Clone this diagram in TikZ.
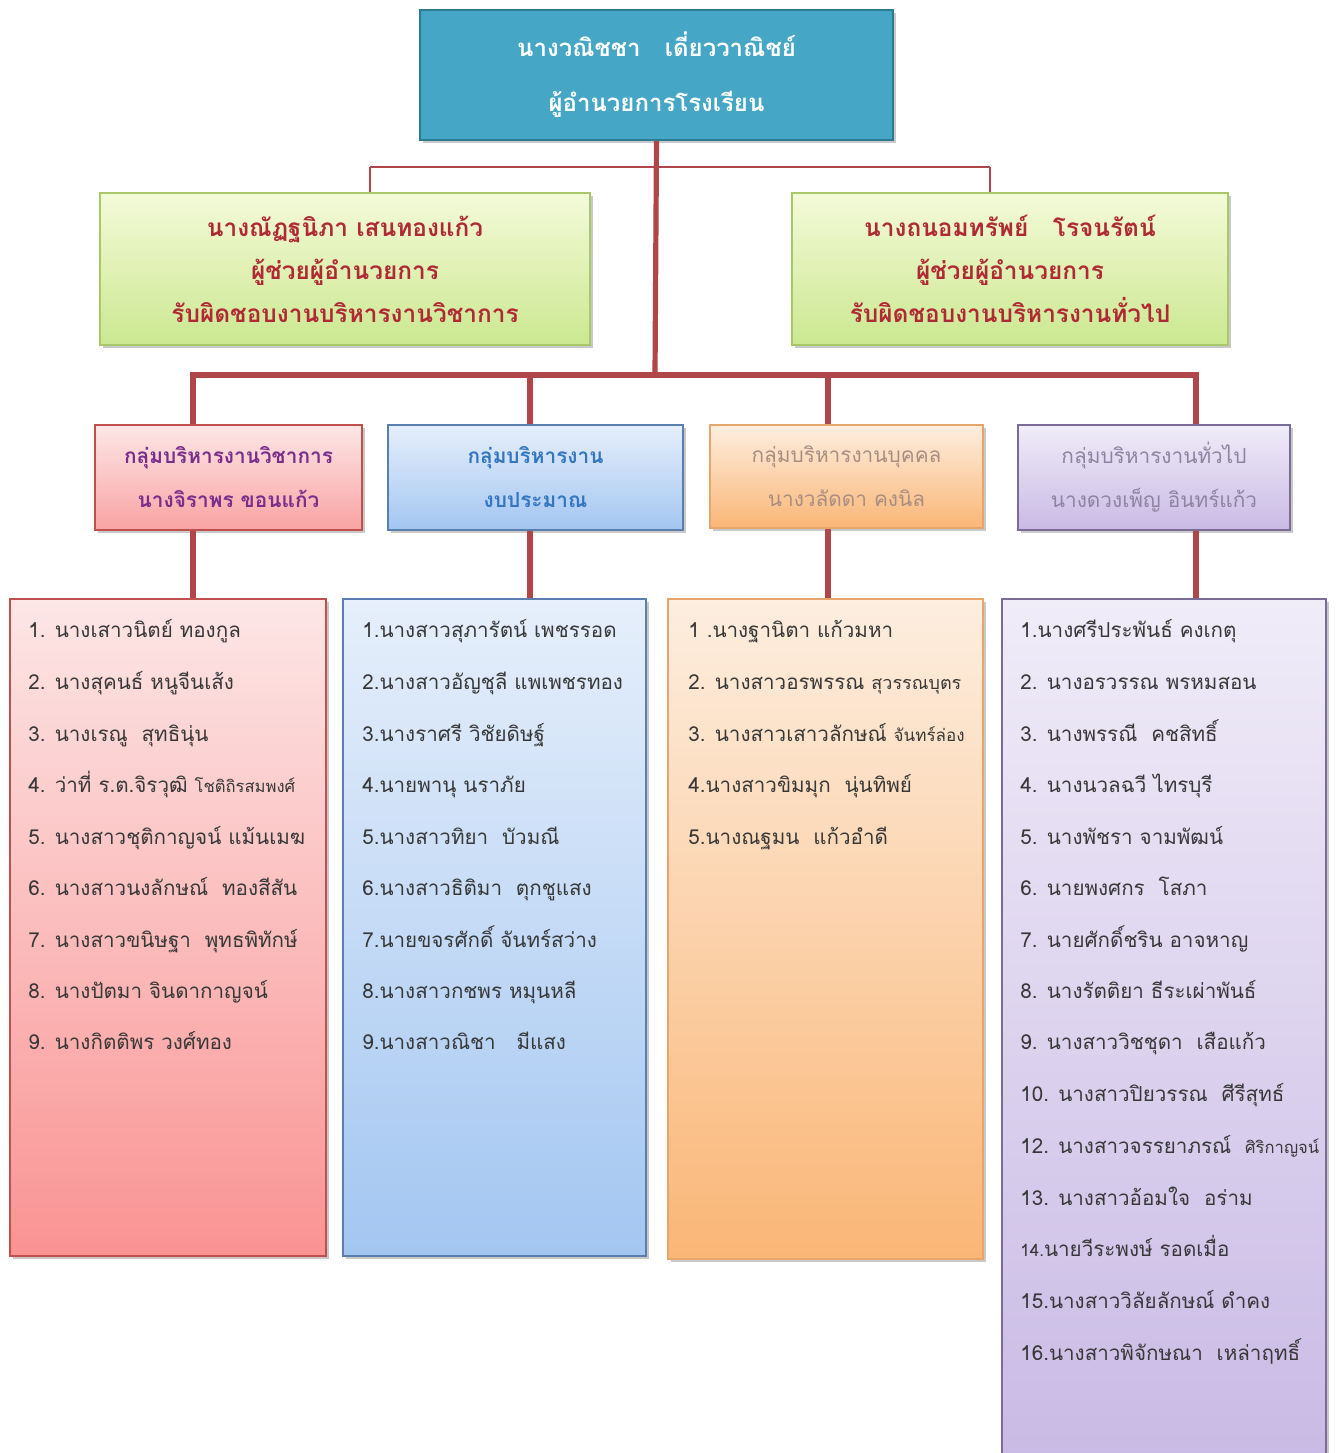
\documentclass[tikz,border=0pt]{standalone}
\usepackage{fontspec}
\setmainfont{Liberation Sans}
\newfontfamily\thai[Script=Thai]{Loma}
\usetikzlibrary{shadows}
\definecolor{linered}{HTML}{B0464A}
\definecolor{topfill}{HTML}{46A6C6}
\definecolor{topdraw}{HTML}{2C7A8F}
\definecolor{asstxt}{HTML}{B02A36}
\definecolor{greentop}{HTML}{F4FAD8}
\definecolor{greenbot}{HTML}{CBE891}
\definecolor{greendraw}{HTML}{A9C86A}
\definecolor{pinktop}{HTML}{FDE6E6}
\definecolor{pinkbot}{HTML}{F9A3A3}
\definecolor{pinkdraw}{HTML}{C0504D}
\definecolor{bluetop}{HTML}{E6EFFB}
\definecolor{bluebot}{HTML}{A3C6F1}
\definecolor{bluedraw}{HTML}{5A7FAF}
\definecolor{orangetop}{HTML}{FDEEE0}
\definecolor{orangebot}{HTML}{FAB676}
\definecolor{orangedraw}{HTML}{E6A66B}
\definecolor{purptop}{HTML}{F0ECF8}
\definecolor{purpbot}{HTML}{C9BAE5}
\definecolor{purpdraw}{HTML}{7A6C94}
\definecolor{listtxt}{HTML}{383838}
\definecolor{grpAtxt}{HTML}{7A2E8C}
\definecolor{grpBtxt}{HTML}{3476C0}
\definecolor{grpCtxt}{HTML}{A88E82}
\definecolor{grpDtxt}{HTML}{8C84A0}
\tikzset{
  boxbase/.style={rectangle, inner sep=0pt, line width=0.8pt,
    drop shadow={shadow xshift=1.5pt, shadow yshift=-1.5pt, opacity=0.35, fill=black!60}},
  topbox/.style={boxbase, fill=topfill, draw=topdraw, line width=1.2pt,
    minimum width=236.5pt, minimum height=65pt, align=center,
    font=\thai\bfseries\fontsize{12}{27.5}\selectfont, text=white},
  asstbox/.style={boxbase, top color=greentop, bottom color=greenbot, draw=greendraw,
    minimum height=76pt, align=center,
    font=\thai\bfseries\fontsize{12.2}{21.5}\selectfont, text=asstxt},
  grpbox/.style={boxbase, minimum height=52.5pt, align=center,
    font=\thai\fontsize{10.4}{22}\selectfont},
  grpbold/.style={font=\thai\bfseries\fontsize{10.4}{22}\selectfont},
  listbox/.style={boxbase, minimum height=328.5pt, anchor=north},
  item/.style={anchor=base west, inner sep=0pt, font=\thai\fontsize{10.3}{13}\selectfont, text=listtxt},
  thick line/.style={draw=linered, line width=2.6pt},
  thin line/.style={draw=linered, line width=0.8pt}
}
\begin{document}
\begin{tikzpicture}[x=0.5pt, y=-0.5pt]
\useasboundingbox (0,0) rectangle (1336,1453);
\fill[white] (0,0) rectangle (1336,1453);

\coordinate (trunk) at (655,375);
\coordinate (thinL) at (370,167);
\coordinate (thinR) at (990,167);
\coordinate (busL) at (193,375);
\coordinate (busB) at (530,375);
\coordinate (busO) at (828,375);
\coordinate (busR) at (1196,375);

% top box
\node[topbox] (top) at (656.5,75) {นางวณิชชา \ \ เดี่ยววาณิชย์\\ผู้อำนวยการโรงเรียน};

% assistants
\node[asstbox, minimum width=245pt] (asstL) at (345,269)
  {นางณัฏฐนิภา เสนทองแก้ว\\ผู้ช่วยผู้อำนวยการ\\รับผิดชอบงานบริหารงานวิชาการ};
\node[asstbox, minimum width=218pt] (asstR) at (1010,269)
  {นางถนอมทรัพย์ \ \ โรจนรัตน์\\ผู้ช่วยผู้อำนวยการ\\รับผิดชอบงานบริหารงานทั่วไป};

% groups
\node[grpbox, grpbold, top color=pinktop, bottom color=pinkbot, draw=pinkdraw, minimum width=133.5pt,
  text=grpAtxt] (gA) at (228.5,477.5)
  {กลุ่มบริหารงานวิชาการ\\นางจิราพร ขอนแก้ว};
\node[grpbox, grpbold, top color=bluetop, bottom color=bluebot, draw=bluedraw, minimum width=147.5pt,
  text=grpBtxt] (gB) at (535.5,477.5)
  {กลุ่มบริหารงาน\\งบประมาณ};
\node[grpbox, top color=orangetop, bottom color=orangebot, draw=orangedraw, minimum width=136.5pt,
  minimum height=51.5pt, text=grpCtxt] (gC) at (846.5,476.5)
  {กลุ่มบริหารงานบุคคล\\นางวลัดดา คงนิล};
\node[grpbox, top color=purptop, bottom color=purpbot, draw=purpdraw, minimum width=136pt,
  text=grpDtxt] (gD) at (1154,477.5)
  {กลุ่มบริหารงานทั่วไป\\นางดวงเพ็ญ อินทร์แก้ว};

% list boxes
\node[listbox, top color=pinktop, bottom color=pinkbot!90!red, draw=pinkdraw, minimum width=158pt] (lA) at (168,598) {};
\node[listbox, top color=bluetop, bottom color=bluebot, draw=bluedraw, minimum width=151.5pt] (lB) at (494.5,598) {};
\node[listbox, top color=orangetop, bottom color=orangebot, draw=orangedraw, minimum width=157.5pt, minimum height=330pt] (lC) at (825.5,598) {};
\node[listbox, top color=purptop, bottom color=purpbot, draw=purpdraw, minimum width=162pt, minimum height=430pt] (lD) at (1164,598) {};

% connectors
\draw[thick line] (top.south) -- (trunk);
\draw[thin line] (thinL) -- (thinR);
\draw[thin line] (thinL) -- (thinL |- asstL.north);
\draw[thin line] (thinR) -- (thinR |- asstR.north);
\draw[thick line, line cap=rect] (busL) -- (busR);
\draw[thick line] (busL) -- (busL |- gA.north);
\draw[thick line] (busB) -- (busB |- gB.north);
\draw[thick line] (busO) -- (busO |- gC.north);
\draw[thick line] (busR) -- (busR |- gD.north);
\draw[thick line] (busL |- gA.south) -- (busL |- lA.north);
\draw[thick line] (busB |- gB.south) -- (busB |- lB.north);
\draw[thick line] (busO |- gC.south) -- (busO |- lC.north);
\draw[thick line] (busR |- gD.south) -- (busR |- lD.north);

% list A
\node[item] (a1) at (28,637) {1. นางเสาวนิตย์ ทองกูล};
\node[item] (a2) at (28,689) {2. นางสุคนธ์ หนูจีนเส้ง};
\node[item] (a3) at (28,741) {3. นางเรณู \ สุทธินุ่น};
\node[item] (a4) at (28,792) {4. ว่าที่ ร.ต.จิรวุฒิ {\fontsize{8.3}{10}\selectfont โชติถิรสมพงศ์}};
\node[item] (a5) at (28,844) {5. นางสาวชุติกาญจน์ แม้นเมฆ};
\node[item] (a6) at (28,895) {6. นางสาวนงลักษณ์ \ ทองสีสัน};
\node[item] (a7) at (28,947) {7. นางสาวขนิษฐา \ พุทธพิทักษ์};
\node[item] (a8) at (28,998) {8. นางปัตมา จินดากาญจน์};
\node[item] (a9) at (28,1049) {9. นางกิตติพร วงศ์ทอง};

% list B
\node[item] (b1) at (362,637) {1.นางสาวสุภารัตน์ เพชรรอด};
\node[item] (b2) at (362,689) {2.นางสาวอัญชุลี แพเพชรทอง};
\node[item] (b3) at (362,741) {3.นางราศรี วิชัยดิษฐ์};
\node[item] (b4) at (362,792) {4.นายพานุ นราภัย};
\node[item] (b5) at (362,844) {5.นางสาวทิยา \ บัวมณี};
\node[item] (b6) at (362,895) {6.นางสาวธิติมา \ ตุกชูแสง};
\node[item] (b7) at (362,947) {7.นายขจรศักดิ์ จันทร์สว่าง};
\node[item] (b8) at (362,998) {8.นางสาวกชพร หมุนหลี};
\node[item] (b9) at (362,1049) {9.นางสาวณิชา \ \ มีแสง};

% list C
\node[item] (c1) at (688,637) {1 .นางฐานิตา แก้วมหา};
\node[item] (c2) at (688,689) {2. นางสาวอรพรรณ {\fontsize{9}{10}\selectfont สุวรรณบุตร}};
\node[item] (c3) at (688,741) {3. นางสาวเสาวลักษณ์ {\fontsize{8.5}{10}\selectfont จันทร์ล่อง}};
\node[item] (c4) at (688,792) {4.นางสาวขิมมุก \ นุ่นทิพย์};
\node[item] (c5) at (688,844) {5.นางณฐมน \ แก้วอำดี};

% list D
\node[item] (d1) at (1020,637) {1.นางศรีประพันธ์ คงเกตุ};
\node[item] (d2) at (1020,689) {2. นางอรวรรณ พรหมสอน};
\node[item] (d3) at (1020,741) {3. นางพรรณี \ คชสิทธิ์};
\node[item] (d4) at (1020,792) {4. นางนวลฉวี ไทรบุรี};
\node[item] (d5) at (1020,844) {5. นางพัชรา จามพัฒน์};
\node[item] (d6) at (1020,895) {6. นายพงศกร \ โสภา};
\node[item] (d7) at (1020,947) {7. นายศักดิ์ชริน อาจหาญ};
\node[item] (d8) at (1020,998) {8. นางรัตติยา ธีระเผ่าพันธ์};
\node[item] (d9) at (1020,1049) {9. นางสาววิชชุดา \ เสือแก้ว};
\node[item] (d10) at (1020,1101) {10. นางสาวปิยวรรณ \ ศีรีสุทธ์};
\node[item] (d12) at (1020,1153) {12. นางสาวจรรยาภรณ์ \ {\fontsize{8.3}{10}\selectfont ศิริกาญจน์}};
\node[item] (d13) at (1020,1205) {13. นางสาวอ้อมใจ \ อร่าม};
\node[item] (d14) at (1020,1256) {{\fontsize{8.5}{10}\selectfont 14.}นายวีระพงษ์ รอดเมื่อ};
\node[item] (d15) at (1020,1308) {15.นางสาววิลัยลักษณ์ ดำคง};
\node[item] (d16) at (1020,1360) {16.นางสาวพิจักษณา \ เหล่าฤทธิ์};
\end{tikzpicture}
\end{document}
